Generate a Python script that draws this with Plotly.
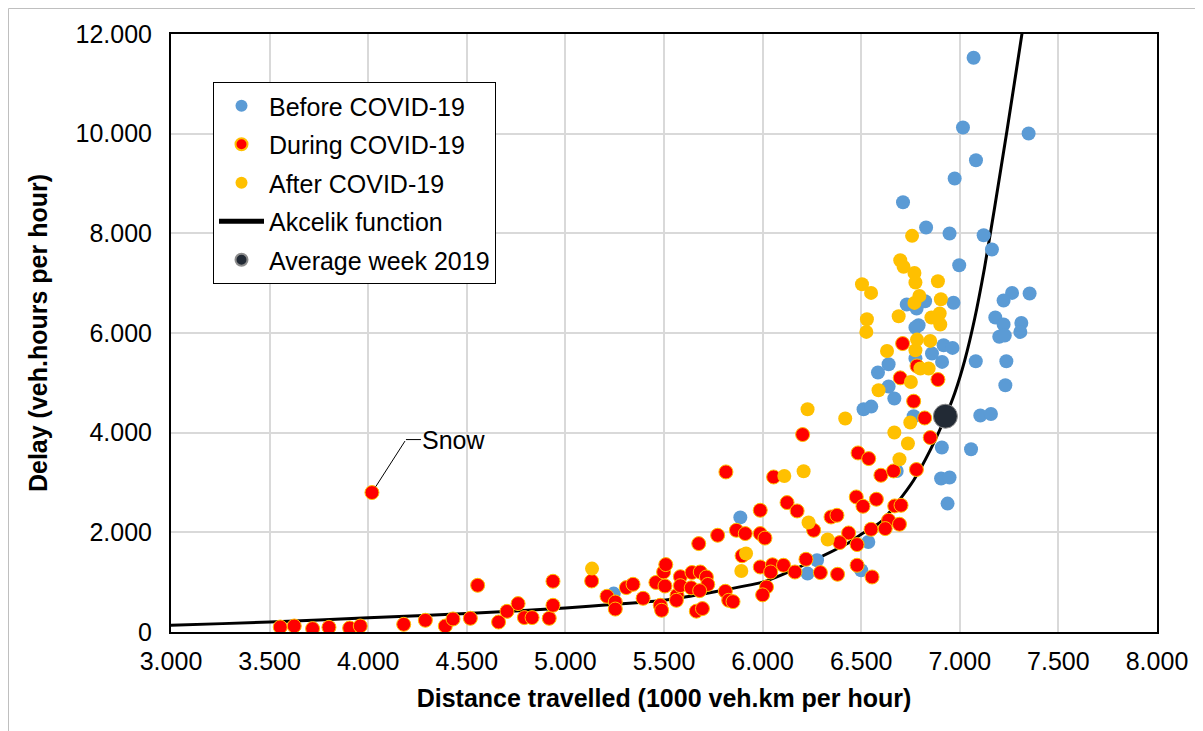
import plotly.graph_objects as go

# ---------------- data ----------------
before_x = [5245, 5887, 6228, 6276, 6500, 6536, 6680, 6766, 6909, 6905, 6948, 6938,
            6512, 6551, 6639, 6668, 7057, 7104, 7158, 6918, 6963, 6910, 7081, 7236,
            7231, 6859, 6775, 6639, 6585, 6731, 6781, 6824, 6968, 6791, 6775, 7180,
            7222, 7200, 7228, 7312, 7307, 7265, 7222, 7354, 6997, 6948, 7121, 7163,
            6829, 6712, 6974, 7082, 7016, 7349, 7070]
before_y = [771, 2300, 1172, 1439, 1238, 1807, 3230, 4330, 3701, 3079, 3099, 2577,
            4470, 4523, 4925, 4685, 3667, 4343, 4376, 5755, 5701, 5420, 5434, 5434,
            4952, 5588, 5488, 5373, 5207, 6571, 6491, 6638, 6608, 6156, 6110, 6311,
            6170, 5925, 5950, 6202, 6022, 6805, 6651, 6792, 7361, 7997, 7963, 7676,
            8117, 8625, 9100, 9468, 10124, 10004, 11522]

during_x = [3554, 3625, 3718, 3801, 3906, 3960, 4019, 4180, 4290, 4391, 4430, 4518,
            4555, 4661, 4704, 4760, 4792, 4831, 4918, 4937, 4937, 5133, 5211, 5253,
            5253, 5309, 5343, 5394, 5459, 5481, 5488, 5498, 5509, 5505, 5566, 5563,
            5583, 5583, 5642, 5684, 5715, 5722, 5638, 5681, 5664, 5695, 5676, 5772,
            5811, 5828, 5850, 5867, 5912, 5988, 6012, 5896, 5988, 5988, 6050, 6106,
            6041, 6164, 6020, 6000, 6124, 6175, 5814, 6056, 6203, 6220, 6293, 6380,
            6479, 6555, 6259, 6347, 6377, 6436, 6391, 6479, 6484, 6538, 6475, 6509,
            6577, 6550, 6639, 6622, 6694, 6670, 6702, 6600, 6664, 6780, 6850, 6822,
            6766, 6698, 6889, 6783, 6710]
during_y = [100, 120, 68, 94, 80, 120, 2798, 154, 235, 120, 261, 275,
            937, 200, 415, 570, 289, 289, 275, 536, 1018, 1024, 717, 602,
            460, 891, 957, 676, 994, 536, 436, 1204, 1353, 923, 737, 636,
            1110, 930, 1194, 1204, 1104, 955, 887, 830, 418, 470, 1774, 1941,
            817, 636, 609, 2041, 1975, 1975, 1885, 1530, 2443, 1305, 1349, 1339,
            1204, 1204, 903, 745, 2597, 2429, 3212, 3111, 3962, 1459, 1192, 1158,
            1339, 1104, 2041, 2308, 2342, 1987, 1794, 1754, 3593, 3480, 2710, 2523,
            2664, 2061, 2242, 2075, 2162, 2530, 2543, 3145, 3232, 3260, 3902, 4295,
            4631, 5100, 5066, 5339, 5788]
snow_index = 6

after_x = [5135, 5916, 5892, 6110, 6208, 6233, 6330, 6228, 6419, 6588, 6752, 6749,
           6668, 6737, 6694, 6758, 6698, 6715, 6770, 6775, 6504, 6550, 6889, 6795,
           6770, 6904, 6690, 6856, 6898, 6901, 6529, 6526, 6783, 6850, 6775, 6631,
           6800, 6842]
after_y = [1272, 1574, 1224, 3131, 3226, 2196, 1855, 4470, 4283, 4852, 5018, 4203,
           4002, 3782, 3466, 7949, 7461, 7327, 7206, 7013, 6979, 6805, 7039, 6744,
           6604, 6678, 6337, 6311, 6391, 6170, 6277, 6022, 5868, 5841, 5654, 5640,
           5287, 5287]

akcelik_x = [2950, 3000, 3500, 4000, 4500, 5000, 5250, 5500, 6000, 6100, 6260, 6430,
             6500, 6600, 6680, 6766, 6850, 6927, 6975, 7025, 7075, 7125, 7175, 7240,
             7315, 7335]
akcelik_y = [125, 134, 200, 285, 370, 480, 556, 636, 1000, 1150, 1440, 1775,
             1960, 2210, 2580, 3045, 3650, 4315, 4800, 5450, 6280, 7300, 8480, 10080,
             12000, 12550]

avg_x = [6927]
avg_y = [4330]

x_ticks = [3000, 3500, 4000, 4500, 5000, 5500, 6000, 6500, 7000, 7500, 8000]
y_ticks = [0, 2000, 4000, 6000, 8000, 10000, 12000]

FONT = "Liberation Sans, Arial, sans-serif"

# plot-area geometry (figure pixels)
L, R, T, B = 163, 54, 26, 107
PW, PH = 1203 - L - R, 731 - T - B

fig = go.Figure()

fig.add_trace(go.Scatter(
    x=akcelik_x, y=akcelik_y, mode="lines", name="Akcelik function",
    line=dict(color="black", width=3, shape="spline", smoothing=0.6),
    legendrank=4, legendgroup="g4"))

fig.add_trace(go.Scatter(
    x=before_x, y=before_y, mode="markers", name="Before COVID-19",
    marker=dict(color="#5B9BD5", size=14, line=dict(width=0)),
    legendrank=1, legendgroup="g1"))

fig.add_trace(go.Scatter(
    x=during_x, y=during_y, mode="markers", name="During COVID-19",
    marker=dict(color="#FF0000", size=14, line=dict(color="#FFC000", width=1)),
    legendrank=2, legendgroup="g2"))

fig.add_trace(go.Scatter(
    x=after_x, y=after_y, mode="markers", name="After COVID-19",
    marker=dict(color="#FFC000", size=14, line=dict(width=0)),
    legendrank=3, legendgroup="g3"))

fig.add_trace(go.Scatter(
    x=avg_x, y=avg_y, mode="markers", name="Average week 2019",
    marker=dict(color="#222A35", size=24, line=dict(color="#8C8C8C", width=1)),
    legendrank=5, legendgroup="g5"))

sx, sy = during_x[snow_index], during_y[snow_index]
fig.add_annotation(x=sx, y=sy, text="", showarrow=True, arrowhead=0,
                   arrowwidth=1, arrowcolor="black", ax=34, ay=-53, standoff=7)
fig.add_annotation(x=sx, y=sy, text="Snow", showarrow=True, arrowhead=0,
                   arrowwidth=1, arrowcolor="black", xshift=34, yshift=53,
                   ax=48, ay=0, font=dict(size=25, color="black", family=FONT))

# outer chart border (figure edge)
fig.add_shape(type="rect", xref="paper", yref="paper",
              x0=(0.5 - L) / PW, x1=(1202.5 - L) / PW,
              y0=(PH + T - 730.5) / PH, y1=(PH + T - 0.5) / PH,
              line=dict(color="#BFBFBF", width=1), layer="below")

axis_common = dict(
    showgrid=True, gridcolor="#D9D9D9", gridwidth=1.5,
    showline=True, linecolor="black", linewidth=2, mirror=True,
    ticks="", zeroline=False, automargin=False,
    tickfont=dict(size=25, color="black", family=FONT),
)

fig.update_xaxes(range=[3000, 8000], tickvals=x_ticks, tickformat=",d",
                 title=dict(text="<b>Distance travelled (1000 veh.km per hour)</b>",
                            font=dict(size=25, color="black", family=FONT), standoff=15),
                 ticklabelstandoff=6, **axis_common)
fig.update_yaxes(range=[0, 12000], tickvals=y_ticks, tickformat=",d",
                 title=dict(text="<b>Delay (veh.hours per hour)</b>",
                            font=dict(size=25, color="black", family=FONT), standoff=21),
                 ticklabelstandoff=12, **axis_common)

fig.update_layout(
    width=1203, height=731,
    margin=dict(l=L, r=R, t=T, b=B),
    paper_bgcolor="white", plot_bgcolor="white",
    separators=",.",
    font=dict(family=FONT, size=25, color="black"),
    showlegend=True,
    legend=dict(x=(205 - L) / PW, y=(PH + T - 74) / PH, xanchor="left", yanchor="top",
                bgcolor="white", bordercolor="black", borderwidth=1,
                font=dict(size=25, color="black", family=FONT),
                itemwidth=45, tracegroupgap=3, itemsizing="constant",
                traceorder="grouped"),
)

fig.write_html("out.html")
